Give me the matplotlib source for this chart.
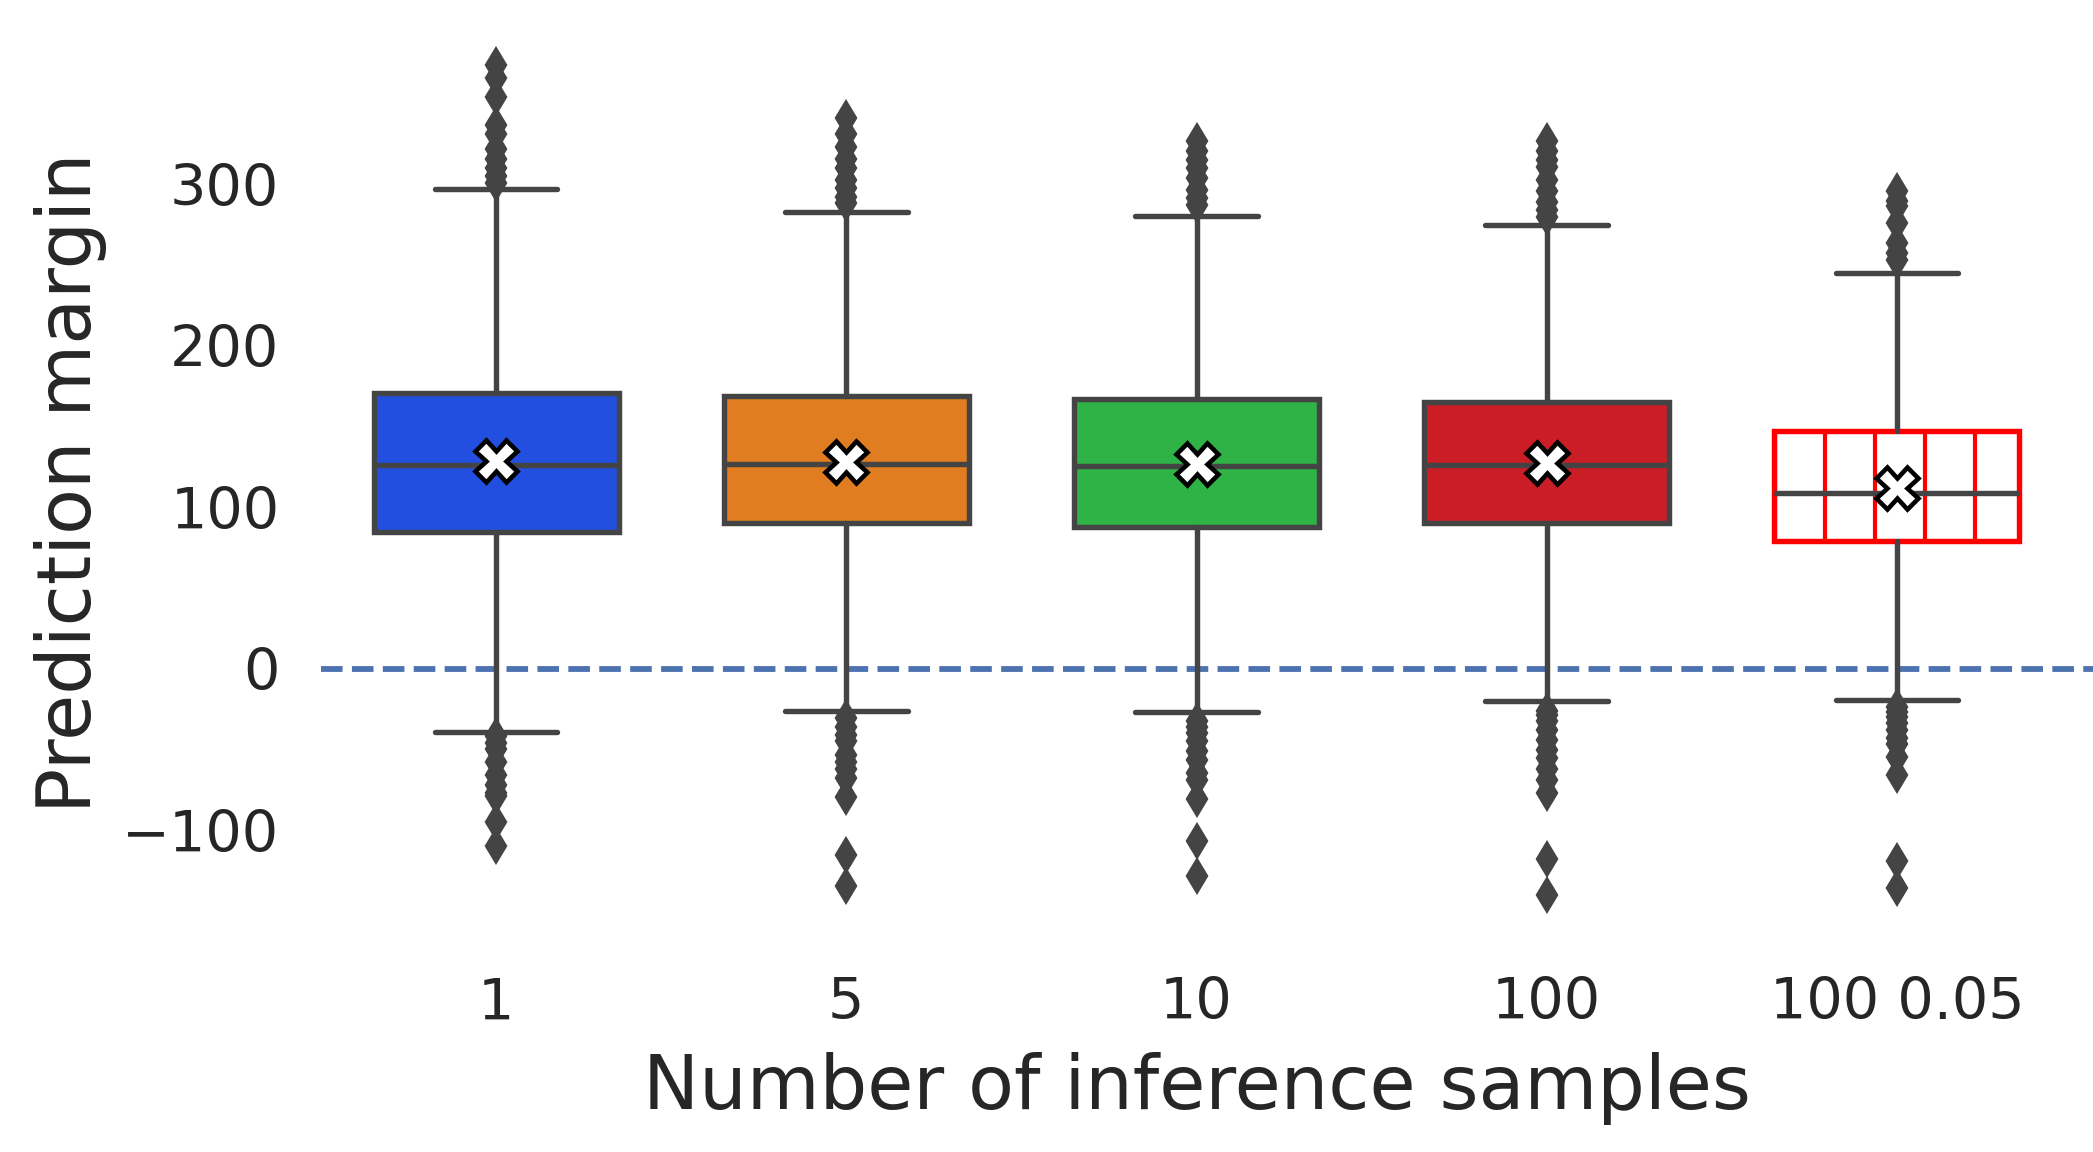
import matplotlib
matplotlib.use("Agg")
import matplotlib.pyplot as plt
import seaborn as sns

# data (prediction margin per setting)
labels = ["1", "5", "10", "100", "100 0.05"]
q1 = [84.5, 90.0, 87.8, 90.3, 79.0]
q3 = [171.0, 168.6, 167.3, 165.0, 147.5]
medians = [126.0, 126.6, 125.3, 126.4, 108.5]
means = [128.6, 128.3, 127.0, 127.4, 111.8]
whis_lo = [-39.0, -26.5, -27.0, -20.0, -19.5]
whis_hi = [297.0, 282.8, 280.7, 275.0, 245.0]
fliers = [
    [374, 366, 354, 337, 331, 322, 316, 310, 305, 301,
     -42, -46, -50, -57.6, -66, -72, -77.3, -79.2, -95.2, -110],
    [341, 331, 323, 316, 310, 303, 297.6, 292.5, 288.3,
     -30.7, -35.9, -41, -45, -53.4, -57.6, -62, -67.9, -79.3, -115.4, -134.6],
    [327, 320.5, 315, 310, 304, 296.8, 291.6, 287.5,
     -32.6, -36, -39.9, -45, -51.2, -56.4, -64.6, -68.8, -80.7, -107, -128.7],
    [327, 320.5, 315, 311, 303, 295.7, 289, 284.4, 280,
     -26.4, -29, -32.6, -37.8, -44, -50.2, -55.3, -62, -68.8, -77, -117.7, -140],
    [296, 290, 286.4, 276, 263.8, 257.6, 253.4,
     -24, -27, -30, -34, -38, -43, -47, -55, -66, -119, -136],
]

gray = "#444444"
txt = "#262626"
palette = [sns.desaturate(c, 0.75) for c in sns.color_palette("bright", 4)]

stats = []
for i in range(len(labels)):
    stats.append(dict(label=labels[i], q1=q1[i], q3=q3[i], med=medians[i],
                      mean=means[i], whislo=whis_lo[i], whishi=whis_hi[i],
                      fliers=fliers[i]))

fig = plt.figure(figsize=(2093 / 300, 1152 / 300), dpi=300)
ax = fig.add_axes([321 / 2093, 1 - 943 / 1152, 1751 / 2093, 920 / 1152])

lw = 1.3
bp = ax.bxp(stats, positions=range(len(labels)), widths=0.7,
            patch_artist=True, showmeans=True,
            boxprops=dict(edgecolor=gray, linewidth=lw),
            medianprops=dict(color=gray, linewidth=lw),
            whiskerprops=dict(color=gray, linewidth=lw, solid_capstyle="round"),
            capprops=dict(color=gray, linewidth=lw, solid_capstyle="round"),
            flierprops=dict(marker="d", markersize=5, markerfacecolor=gray,
                            markeredgecolor=gray),
            meanprops=dict(marker="X", markersize=10, markerfacecolor="white",
                           markeredgecolor="black", markeredgewidth=1.1))

for i, box in enumerate(bp["boxes"]):
    if i < 4:
        box.set_facecolor(palette[i])
    else:
        box.set_facecolor("white")
        box.set_edgecolor("red")
        box.set_hatch("|")
    box.set_zorder(2)

ax.axhline(0, xmin=0, xmax=1772 / 1751, color="#4c72b0", linestyle="--",
           linewidth=1.4, clip_on=False, zorder=1)

ax.set_xlim(-0.5, 4.5)
ax.set_ylim(-170, 400)
ax.set_yticks([-100, 0, 100, 200, 300])
ax.set_xticks(range(len(labels)))
ax.set_xticklabels(labels)
for s in ax.spines.values():
    s.set_visible(False)
ax.tick_params(axis="both", length=0, labelsize=13.75, colors=txt)
ax.tick_params(axis="x", pad=8)
ax.tick_params(axis="y", pad=10)

ax.set_xlabel("Number of inference samples", fontsize=18, color=txt)
ax.set_ylabel("Prediction margin", fontsize=18, color=txt)
ax.xaxis.set_label_coords(0.5, -0.158)
ax.xaxis.label.set_va("center")
ax.yaxis.set_label_coords(-0.1433, 0.5)
ax.yaxis.label.set_va("center")

fig.savefig("out.png", dpi=300)
